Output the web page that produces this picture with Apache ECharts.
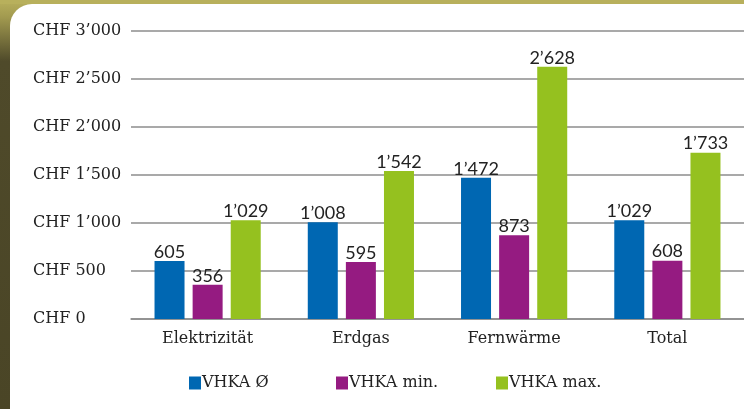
<!DOCTYPE html>
<html><head><meta charset="utf-8">
<script src="https://cdn.jsdelivr.net/npm/echarts@6/dist/echarts.min.js"></script>
<style>html,body{margin:0;padding:0;background:#fff}#c{width:744px;height:409px}</style>
</head><body><div id="c"></div>
<script>
const categories = ['Elektrizität', 'Erdgas', 'Fernwärme', 'Total'];
const seriesNames = ['VHKA Ø', 'VHKA min.', 'VHKA max.'];
const avgValues = [605, 1008, 1472, 1029];
const minValues = [356, 595, 873, 608];
const maxValues = [1029, 1542, 2628, 1733];
const yTicks = [0, 500, 1000, 1500, 2000, 2500, 3000];
const colors = ['#0067b2', '#951b81', '#95c11f'];

function fmt(v) {
  const s = String(Math.round(v));
  return s.replace(/\B(?=(\d{3})+(?!\d))/g, '\u2019');
}
const serif = '"DejaVu Serif", "Liberation Serif", serif';
const sans = 'Lato, "Open Sans", "Liberation Sans", sans-serif';

const chart = echarts.init(document.getElementById('c'));
const values = [avgValues, minValues, maxValues];
const legendX = [184, 331, 491];
chart.setOption({
  animation: false,
  graphic: [
    { type: 'rect', z: -10, silent: true, shape: { x: 0, y: 0, width: 744, height: 409 },
      style: { fill: new echarts.graphic.LinearGradient(0, 0, 0, 1, [
        { offset: 0, color: '#b8b05c' }, { offset: 0.04, color: '#a39b50' },
        { offset: 0.15, color: '#4f4a2a' }, { offset: 1, color: '#4a4526' }]) } },
    { type: 'rect', z: -9, silent: true, shape: { x: 0, y: 0, width: 744, height: 4 },
      style: { fill: '#b8b05c' } },
    { type: 'rect', z: -8, silent: true, shape: { x: 10, y: 4, width: 760, height: 420, r: [22, 0, 0, 0] },
      style: { fill: '#ffffff' } }
  ],
  grid: { left: 131, right: -2, top: 31, bottom: 90, containLabel: false },
  legend: legendX.map((x, i) => ({
    data: [seriesNames[i]], left: x, top: 370, itemWidth: 12, itemHeight: 13, itemGap: 0,
    icon: 'rect', textStyle: { fontFamily: serif, fontSize: 16, color: '#222', padding: [0, 0, 0, -4] },
    selectedMode: false
  })),
  xAxis: {
    type: 'category', data: categories,
    axisLine: { lineStyle: { color: '#8c8c8c', width: 1.5 } },
    axisTick: { show: false },
    axisLabel: { fontFamily: serif, fontSize: 16, color: '#222', margin: 12 }
  },
  yAxis: {
    type: 'value', min: 0, max: 3000, interval: 500,
    axisLine: { show: false }, axisTick: { show: false },
    splitLine: { lineStyle: { color: '#8c8c8c', width: 1.5 } },
    axisLabel: { fontFamily: serif, fontSize: 16, color: '#222', align: 'left', margin: 98,
      formatter: v => yTicks.includes(v) ? 'CHF ' + fmt(v) : '' }
  },
  series: seriesNames.map((n, i) => ({
    name: n, type: 'bar', data: values[i], barWidth: 30, barGap: '27%',
    itemStyle: { color: colors[i] },
    label: { show: true, position: 'top', distance: 0, fontFamily: sans, fontSize: 18, color: '#222',
      formatter: p => fmt(p.value) }
  }))
});
</script></body></html>
